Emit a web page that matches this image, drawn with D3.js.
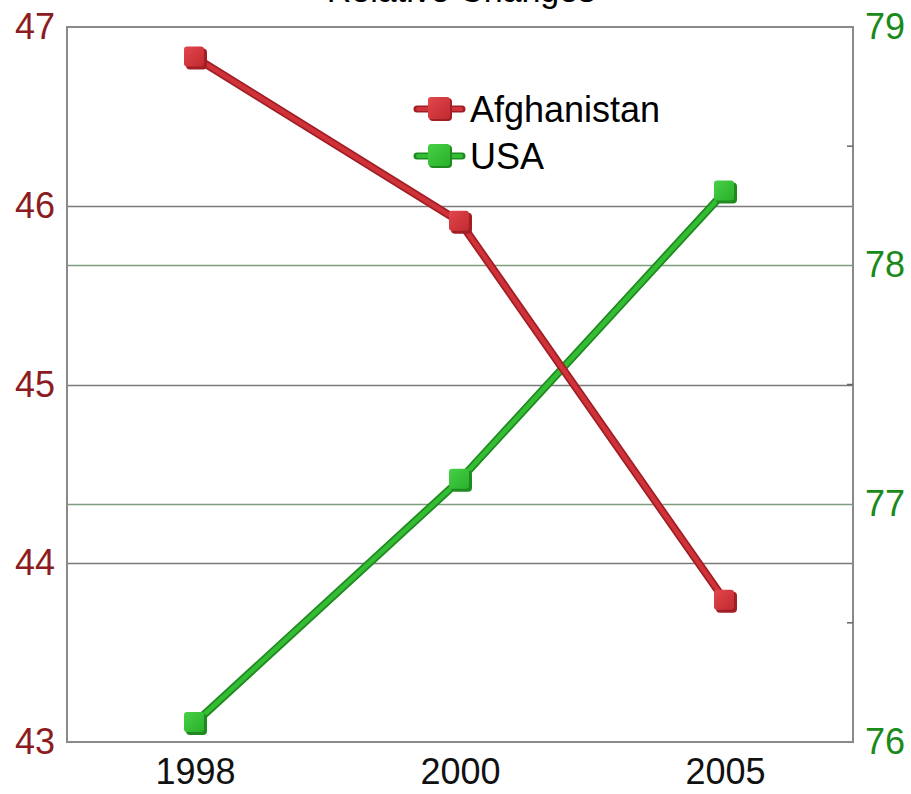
<!DOCTYPE html>
<html>
<head>
<meta charset="utf-8">
<script src="https://cdn.jsdelivr.net/npm/d3@7"></script>
<style>
  html, body { margin: 0; padding: 0; background: #ffffff; }
  svg { display: block; font-family: "Liberation Sans", Arial, sans-serif; }
</style>
</head>
<body>
<svg id="chart" width="911" height="794"></svg>
<script>
// Life expectancy, two series on separate y axes
const years = ["1998", "2000", "2005"];
const afghanistan = [46.83, 45.91, 43.79];
const usa = [76.08, 77.10, 78.31];
const leftTicks = [43, 44, 45, 46, 47];
const rightTicks = [76, 77, 78, 79];
const rightMinorTicks = [76.5, 77.5, 78.5];
const seriesNames = ["Afghanistan", "USA"];
const chartTitle = "Relative Changes";

const svg = d3.select("#chart");
const plot = { left: 67, right: 853, top: 27, bottom: 742 };

const x = d3.scalePoint().domain(years).range([plot.left, plot.right]).padding(0.483);
const yLeft = d3.scaleLinear().domain([43, 47]).range([plot.bottom, plot.top]);
const yRight = d3.scaleLinear().domain([76, 79]).range([plot.bottom, plot.top]);

// Title (sits mostly above the visible area)
svg.append("text")
  .attr("x", 461).attr("y", 2)
  .attr("text-anchor", "middle")
  .attr("font-size", 34)
  .attr("fill", "#000")
  .text(chartTitle);

// Gridlines for both axes
const grid = svg.append("g");
grid.selectAll("line.gl")
  .data(leftTicks.filter(d => d > 43 && d < 47))
  .join("line")
  .attr("x1", plot.left).attr("x2", plot.right)
  .attr("y1", d => Math.round(yLeft(d)) + 0.5).attr("y2", d => Math.round(yLeft(d)) + 0.5)
  .attr("stroke", "#7a7a7a").attr("stroke-width", 1.5);
grid.selectAll("line.gr")
  .data(rightTicks.filter(d => d > 76 && d < 79))
  .join("line")
  .attr("x1", plot.left).attr("x2", plot.right)
  .attr("y1", d => Math.round(yRight(d)) + 0.5).attr("y2", d => Math.round(yRight(d)) + 0.5)
  .attr("stroke", "#7e9c7e").attr("stroke-width", 1.5);

// Plot frame
svg.append("rect")
  .attr("x", plot.left).attr("y", plot.top)
  .attr("width", plot.right - plot.left).attr("height", plot.bottom - plot.top)
  .attr("fill", "none").attr("stroke", "#8a8a8a").attr("stroke-width", 2);

// Left axis
const axL = svg.append("g").attr("transform", `translate(${plot.left},0)`)
  .call(d3.axisLeft(yLeft).tickValues(leftTicks).tickSize(0).tickPadding(12).tickFormat(d3.format("d")));
axL.select(".domain").remove();
axL.selectAll("text")
  .attr("font-size", 36).attr("fill", "#8c1c22")
  .attr("font-family", "Liberation Sans, Arial, sans-serif");

// Right axis
const axR = svg.append("g").attr("transform", `translate(${plot.right},0)`)
  .call(d3.axisRight(yRight).tickValues(rightTicks).tickSize(0).tickPadding(12).tickFormat(d3.format("d")));
axR.select(".domain").remove();
axR.selectAll("text")
  .attr("font-size", 36).attr("fill", "#1a8a1a")
  .attr("font-family", "Liberation Sans, Arial, sans-serif");
svg.append("g").selectAll("line")
  .data(rightMinorTicks)
  .join("line")
  .attr("x1", plot.right - 6).attr("x2", plot.right)
  .attr("y1", d => yRight(d)).attr("y2", d => yRight(d))
  .attr("stroke", "#666").attr("stroke-width", 1.5);

// Bottom axis
const axB = svg.append("g").attr("transform", `translate(0,${plot.bottom})`)
  .call(d3.axisBottom(x).tickSize(0).tickPadding(16));
axB.select(".domain").remove();
axB.selectAll("text")
  .attr("font-size", 36).attr("fill", "#111")
  .attr("font-family", "Liberation Sans, Arial, sans-serif");

// Series drawing: a thick shaded tube with cube markers
const defs = svg.append("defs");
function cubeGradient(id, light, dark) {
  const g = defs.append("linearGradient").attr("id", id)
    .attr("x1", "0").attr("y1", "0").attr("x2", "1").attr("y2", "1");
  g.append("stop").attr("offset", "0%").attr("stop-color", light);
  g.append("stop").attr("offset", "100%").attr("stop-color", dark);
}
cubeGradient("cubeRed", "#e2474d", "#c02a30");
cubeGradient("cubeGreen", "#48d048", "#2ab02a");

function drawSeries(values, yScale, c) {
  const pts = values.map((v, i) => [x(years[i]), yScale(v)]);
  const line = d3.line();
  const g = svg.append("g");
  g.append("path").attr("d", line(pts))
    .attr("fill", "none").attr("stroke", c.edge).attr("stroke-width", 8)
    .attr("stroke-linejoin", "round");
  g.append("path").attr("d", line(pts))
    .attr("fill", "none").attr("stroke", c.main).attr("stroke-width", 4.5)
    .attr("stroke-linejoin", "round");
  const m = g.selectAll("g.mk").data(pts).join("g")
    .attr("transform", d => `translate(${d[0]},${d[1]})`);
  // shadow side of the cube
  m.append("rect").attr("x", -9).attr("y", -9).attr("width", 21).attr("height", 21)
    .attr("rx", 4).attr("fill", c.edge);
  m.append("rect").attr("x", -11).attr("y", -11).attr("width", 20).attr("height", 20)
    .attr("rx", 3).attr("fill", c.grad);
}

const red = { main: "#d0323a", edge: "#a01e24", grad: "url(#cubeRed)" };
const green = { main: "#34bc34", edge: "#1f8a1f", grad: "url(#cubeGreen)" };
drawSeries(usa, yRight, green);
drawSeries(afghanistan, yLeft, red);

// Legend
const legend = svg.append("g");
const legendItems = [
  { name: seriesNames[0], c: red, y: 109 },
  { name: seriesNames[1], c: green, y: 156 }
];
legendItems.forEach(it => {
  const g = legend.append("g").attr("transform", `translate(440,${it.y})`);
  g.append("line").attr("x1", -23).attr("x2", 22).attr("y1", 0).attr("y2", 0)
    .attr("stroke", it.c.edge).attr("stroke-width", 7).attr("stroke-linecap", "round");
  g.append("line").attr("x1", -22).attr("x2", 21).attr("y1", 0).attr("y2", 0)
    .attr("stroke", it.c.main).attr("stroke-width", 4).attr("stroke-linecap", "round");
  g.append("rect").attr("x", -11).attr("y", -11).attr("width", 23).attr("height", 23)
    .attr("rx", 4).attr("fill", it.c.edge);
  g.append("rect").attr("x", -12).attr("y", -12).attr("width", 22).attr("height", 22)
    .attr("rx", 3).attr("fill", it.c.grad);
  g.append("text").attr("x", 30).attr("y", 13)
    .attr("font-size", 36).attr("fill", "#000").text(it.name);
});
</script>
</body>
</html>
